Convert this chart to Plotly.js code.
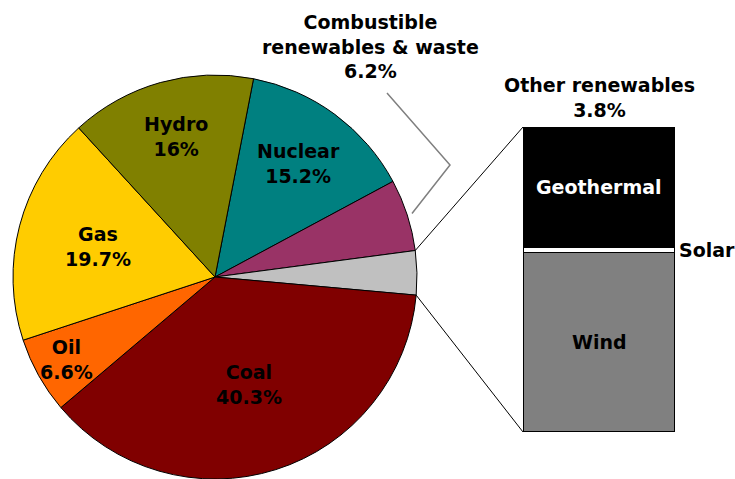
<!DOCTYPE html>
<html><head><meta charset="utf-8">
<script src="https://cdn.plot.ly/plotly-3.0.1.min.js"></script>
<style>html,body{margin:0;padding:0;background:#fff}#chart{width:735px;height:479px}</style>
</head><body><div id="chart"></div>
<script>
// ---- data ----
const sources = ['Nuclear', 'Combustible renewables & waste', 'Other renewables', 'Coal', 'Oil', 'Gas', 'Hydro'];
const shares = [15.2, 6.2, 3.8, 40.3, 6.6, 19.7, 16];
const shareLabels = ['15.2%', '6.2%', '3.8%', '40.3%', '6.6%', '19.7%', '16%'];
const otherKinds = ['Wind', 'Solar', 'Geothermal'];
const otherShares = [58.8, 1.7, 39.5];

// ---- styles ----
const sliceColors = ['#008080', '#993366', '#C0C0C0', '#800000', '#FF6600', '#FFCC00', '#808000'];
const kindColors = ['#808080', '#FFFFFF', '#000000'];
const kindTextColors = ['#000000', '#000000', '#FFFFFF'];
const labelRadius = [0.70, 0, 0, 0.56, 0.84, 0.60, 0.72];
const FONT = 'DejaVu Sans, Verdana, sans-serif';
const FS = 19;

const W = 735, H = 479;
const pieDomX = [0, 430 / W], pieDomY = [0, 404 / H];
const ROT = 11;
const barDomX = [523 / W, 675 / W], barDomY = [47 / H, 352 / H];

// pie geometry (pixels)
const cx = (pieDomX[0] + pieDomX[1]) / 2 * W;
const cy = (1 - (pieDomY[0] + pieDomY[1]) / 2) * H;
const R = Math.min((pieDomX[1] - pieDomX[0]) * W, (pieDomY[1] - pieDomY[0]) * H) / 2;
const total = shares.reduce((a, b) => a + b, 0);
const startA = [], endA = [];
let acc = ROT;
shares.forEach(v => { startA.push(acc); acc += v / total * 360; endA.push(acc); });
const pt = (deg, r) => {
  const a = deg * Math.PI / 180;
  return [cx + r * Math.sin(a), cy - r * Math.cos(a)];
};
const px2paper = p => [p[0] / W, 1 - p[1] / H];

const annotations = [];
const shapes = [];
sources.forEach((s, i) => {
  if (!labelRadius[i]) return;
  const mid = (startA[i] + endA[i]) / 2;
  const p = px2paper(pt(mid, R * labelRadius[i]));
  annotations.push({
    xref: 'paper', yref: 'paper', x: p[0], y: p[1], xanchor: 'center', yanchor: 'middle',
    text: s + '<br>' + shareLabels[i], showarrow: false, align: 'center',
    font: {family: FONT, size: FS, color: '#000', weight: 'bold'}
  });
});

// Combustible callout
annotations.push({
  xref: 'paper', yref: 'paper', x: 370 / W, y: 1 - 9 / H, xanchor: 'center', yanchor: 'top',
  text: 'Combustible<br>renewables & waste<br>' + shareLabels[1], showarrow: false, align: 'center',
  font: {family: FONT, size: FS, color: '#000', weight: 'bold'}
});
{
  const mid = (startA[1] + endA[1]) / 2;
  const e = pt(mid, R + 5);
  const p0 = px2paper([387, 93]), p1 = px2paper([450, 165]), p2 = px2paper(e);
  shapes.push({type: 'path', xref: 'paper', yref: 'paper',
    path: `M${p0[0]},${p0[1]} L${p1[0]},${p1[1]} L${p2[0]},${p2[1]}`,
    line: {color: '#7f7f7f', width: 1.5}});
}

// Other renewables connectors
{
  const a = px2paper(pt(startA[2], R));
  const b = px2paper(pt(endA[2], R));
  shapes.push({type: 'line', xref: 'paper', yref: 'paper', x0: a[0], y0: a[1], x1: barDomX[0], y1: barDomY[1], line: {color: '#000', width: 1}});
  shapes.push({type: 'line', xref: 'paper', yref: 'paper', x0: b[0], y0: b[1], x1: barDomX[0], y1: barDomY[0], line: {color: '#000', width: 1}});
}
annotations.push({
  xref: 'paper', yref: 'paper', x: (barDomX[0] + barDomX[1]) / 2, y: barDomY[1], xanchor: 'center', yanchor: 'bottom', yshift: 4,
  text: sources[2] + '<br>' + shareLabels[2], showarrow: false, align: 'center',
  font: {family: FONT, size: FS, color: '#000', weight: 'bold'}
});

// bar labels
let cum = 0;
otherKinds.forEach((k, i) => {
  const mid = cum + otherShares[i] / 2;
  cum += otherShares[i];
  if (k === 'Solar') {
    annotations.push({xref: 'x', yref: 'y', x: 0.5, y: mid, xanchor: 'left', yanchor: 'middle', xshift: 2,
      text: k, showarrow: false, font: {family: FONT, size: FS, color: '#000', weight: 'bold'}});
  } else {
    annotations.push({xref: 'x', yref: 'y', x: 0, y: mid, xanchor: 'center', yanchor: 'middle',
      text: k, showarrow: false, font: {family: FONT, size: FS, color: kindTextColors[i], weight: 'bold'}});
  }
});

const traces = [{
  type: 'pie', labels: sources, values: shares, sort: false, direction: 'clockwise', rotation: ROT,
  marker: {colors: sliceColors, line: {color: '#000', width: 1}},
  textinfo: 'none', hoverinfo: 'label+percent', showlegend: false,
  domain: {x: pieDomX, y: pieDomY}
}];
otherKinds.forEach((k, i) => {
  traces.push({type: 'bar', x: ['Other'], y: [otherShares[i]], name: k, width: 1,
    marker: {color: kindColors[i], line: {color: '#000', width: 1.5}}, showlegend: false,
    xaxis: 'x', yaxis: 'y'});
});

const layout = {
  width: W, height: H, margin: {l: 0, r: 0, t: 0, b: 0},
  paper_bgcolor: '#fff', plot_bgcolor: 'rgba(0,0,0,0)',
  barmode: 'stack', bargap: 0, showlegend: false,
  xaxis: {domain: barDomX, range: [-0.5, 0.5], visible: false, fixedrange: true},
  yaxis: {domain: barDomY, range: [0, 100], visible: false, fixedrange: true},
  annotations, shapes
};
Plotly.newPlot('chart', traces, layout, {displayModeBar: false, staticPlot: true});
</script></body></html>
